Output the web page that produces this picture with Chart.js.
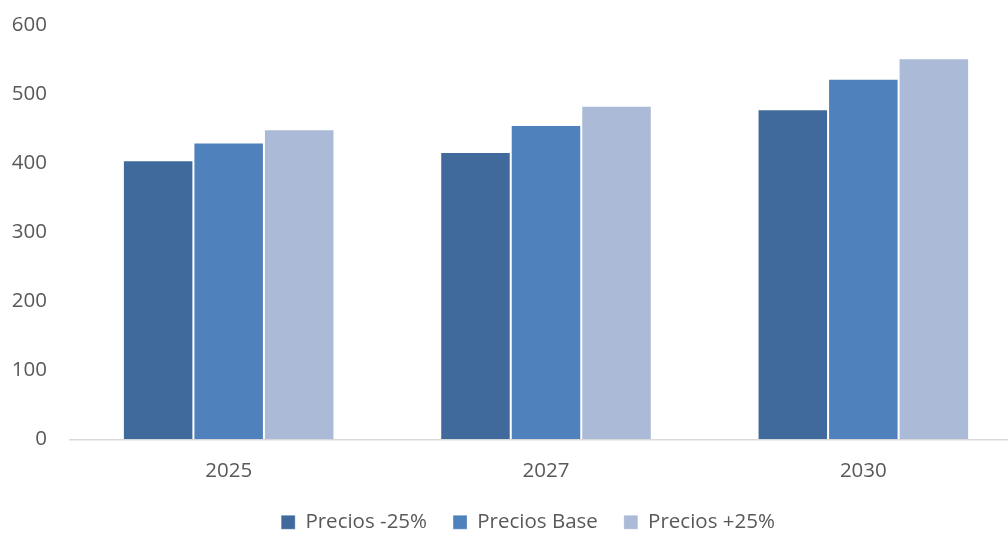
<!DOCTYPE html>
<html>
<head>
<meta charset="utf-8">
<script src="https://cdn.jsdelivr.net/npm/chart.js@4/dist/chart.umd.min.js"></script>
<style>
  html, body { margin: 0; padding: 0; background: #ffffff; overflow: hidden; width: 1008px; height: 534px; }
  #wrap { position: absolute; left: 0; top: 0; width: 1022px; height: 534px; }
</style>
</head>
<body>
<div id="wrap"><canvas id="c"></canvas></div>
<script>
const categories = ['2025', '2027', '2030'];
const seriesNames = ['Precios -25%', 'Precios Base', 'Precios +25%'];
const preciosMenos25 = [404, 416, 478];
const preciosBase = [430, 455, 522];
const preciosMas25 = [449, 483, 552];
const yTickLabels = ['0', '100', '200', '300', '400', '500', '600'];

const colors = ['#3F6A9B', '#4F81BD', '#AABAD7'];
const textColor = '#595959';
const fontFamily = '"Open Sans", "Segoe UI", Arial, sans-serif';
const fontSize = 20.5;

const legendPad = 26;
const legendHeight = legendPad + 22;

const legendFitPlugin = {
  id: 'legendFit',
  beforeLayout(chart) {
    const lg = chart.legend;
    if (lg && !lg._wrappedFit) {
      const orig = lg.fit.bind(lg);
      lg.fit = function () { orig(); this.height = legendHeight; };
      lg._wrappedFit = true;
    }
  },
  afterLayout(chart) {
    const lg = chart.legend;
    if (lg) { lg.left = 34; lg.right = chart.width; }
  }
};

new Chart(document.getElementById('c'), {
  type: 'bar',
  data: {
    labels: categories,
    datasets: [
      { label: seriesNames[0], data: preciosMenos25, backgroundColor: colors[0] },
      { label: seriesNames[1], data: preciosBase, backgroundColor: colors[1] },
      { label: seriesNames[2], data: preciosMas25, backgroundColor: colors[2] }
    ].map(d => Object.assign(d, {
      borderColor: 'rgba(255,255,255,0.3)',
      borderWidth: 1,
      categoryPercentage: 0.6667,
      barPercentage: 1
    }))
  },
  options: {
    responsive: true,
    maintainAspectRatio: false,
    animation: false,
    layout: { padding: { top: 25, left: 12, right: 0, bottom: 0 } },
    plugins: {
      tooltip: { enabled: false },
      legend: {
        position: 'bottom',
        align: 'center',
        labels: {
          boxWidth: 14,
          boxHeight: 14,
          padding: legendPad,
          color: textColor,
          font: { family: fontFamily, size: fontSize }
        }
      }
    },
    scales: {
      x: {
        grid: { display: true, drawOnChartArea: false, drawTicks: false },
        border: { display: true, color: '#D9D9D9', width: 1.5 },
        ticks: {
          color: textColor,
          padding: 20,
          font: { family: fontFamily, size: fontSize }
        },
        afterFit(scale) { scale.height = 534 - legendHeight - 439.3; }
      },
      y: {
        min: 0,
        max: 600,
        grid: { display: false, drawTicks: false },
        border: { display: false },
        ticks: {
          stepSize: 100,
          color: textColor,
          padding: 23,
          font: { family: fontFamily, size: fontSize },
          callback: (v) => yTickLabels[Math.round(v / 100)]
        },
        afterFit(scale) { scale.width = 58; scale.paddingTop = 12; scale.paddingBottom = 12; }
      }
    }
  },
  plugins: [legendFitPlugin]
});
</script>
</body>
</html>
